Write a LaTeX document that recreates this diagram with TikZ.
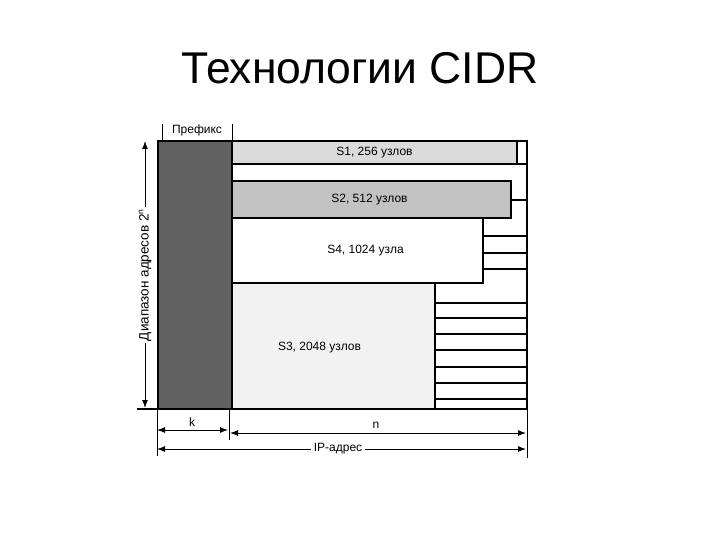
\documentclass[tikz,border=0pt]{standalone}
\usepackage{fontspec}
\setmainfont{Liberation Sans}
\usetikzlibrary{arrows.meta}
\tikzset{
  cell/.style={draw, line width=1.1pt, anchor=north west, inner sep=0pt, outer sep=0pt},
  rline/.style={line width=1.1pt},
  thin/.style={line width=0.8pt},
  lbl/.style={font=\fontsize{12}{14}\selectfont, inner sep=1pt},
  dim/.style={line width=1pt, {Latex[length=8pt,width=6pt]}-{Latex[length=8pt,width=6pt]}},
  dimone/.style={line width=1pt, -{Latex[length=8pt,width=6pt]}},
}
\begin{document}
\begin{tikzpicture}[x=1pt,y=-1pt]
\useasboundingbox (0,0) rectangle (720,540);
% title
\node[font=\fontsize{44.5}{50}\selectfont, anchor=base] (title) at (360,84) {Технологии CIDR};
% outer frame of the address space
\node[cell, minimum width=295, minimum height=268] (frame) at (232,141) {};
% prefix column
\node[cell, fill=black!62, minimum width=74, minimum height=268] (pref) at (158,141) {};
\node[lbl, anchor=base] (preflbl) at (197,134) {Префикс};
\draw[thin] (162,124) -- (162,141);
\draw[thin] (232,124) -- (232,141);
% blocks
\node[cell, fill=black!14, minimum width=285, minimum height=23] (s1) at (232,141) {};
\node[lbl] at (s1.center) {S1, 256 узлов};
\node[cell, fill=black!24, minimum width=279, minimum height=37] (s2) at (232,181) {};
\node[lbl] at ([xshift=-2pt]s2.center) {S2, 512 узлов};
\node[cell, fill=white, minimum width=251, minimum height=65] (s4) at (232,218) {};
\node[lbl] at ([xshift=8pt]s4.center) {S4, 1024 узла};
\node[cell, fill=black!5, minimum width=203, minimum height=126] (s3) at (232,283) {};
\node[lbl] at ([xshift=-14pt,yshift=-2pt]s3.center) {S3, 2048 узлов};
% free row below S1
\draw[rline] (s1.south east) -- (527,164);
% subdivisions of the right column
\draw[rline] (511,200) -- (527,200);
\foreach \y in {236,253,269} \draw[rline] (483,\y) -- (527,\y);
\foreach \y in {303,318,334,350,367,383,399} \draw[rline] (435,\y) -- (527,\y);
% baseline and right edge extension
\draw[rline] (137,409) -- (pref.south west);
\draw[thin] (527,409) -- (527,458);
\draw[thin] (157,409) -- (157,456);
\draw[thin] (229,409) -- (229,440);
% address range arrow
\coordinate (rtop) at (145,141);
\coordinate (rbot) at (145,408);
\node[font=\fontsize{13.5}{15}\selectfont, rotate=90, inner sep=2pt] (rng) at (145,275) {Диапазон адресов 2\textsuperscript{\fontsize{8.5}{9}\selectfont n}};
\draw[dimone] (rng.east) -- (rtop);
\draw[dimone] (rng.west) -- (rbot);
% k and n
\coordinate (kL) at (157,430);
\coordinate (kR) at (228,430);
\coordinate (nL) at (230,433);
\coordinate (nR) at (526,433);
\draw[dim] (kL) -- (kR);
\draw[dim] (nL) -- (nR);
\node[lbl, anchor=base] (k) at (192,426) {k};
\node[lbl, anchor=base] (n) at (376,428) {n};
% IP address
\coordinate (ipL) at (157,449);
\coordinate (ipR) at (526,449);
\node[lbl, fill=white, inner sep=3pt] (ip) at (338,449) {IP-адрес};
\draw[dimone] (ip.west) -- (ipL);
\draw[dimone] (ip.east) -- (ipR);
\end{tikzpicture}
\end{document}
